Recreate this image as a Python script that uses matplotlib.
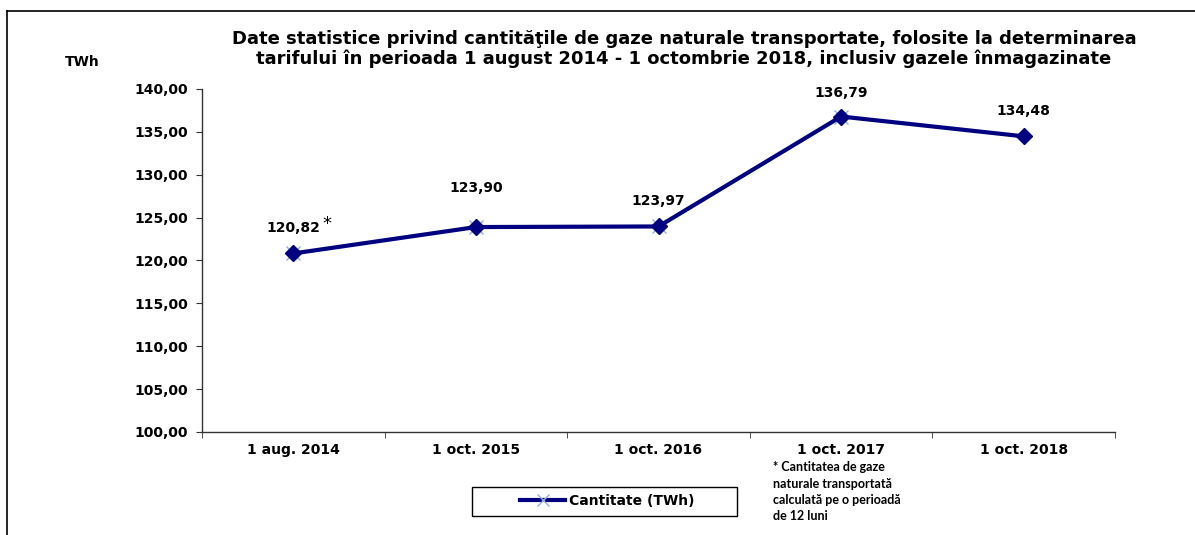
import matplotlib.pyplot as plt
from matplotlib.lines import Line2D
from matplotlib.patches import Rectangle
import numpy as np

categories = ["1 aug. 2014", "1 oct. 2015", "1 oct. 2016", "1 oct. 2017", "1 oct. 2018"]
values = [120.82, 123.90, 123.97, 136.79, 134.48]
value_labels = ["120,82", "123,90", "123,97", "136,79", "134,48"]
yticks = [100, 105, 110, 115, 120, 125, 130, 135, 140]

title = ("Date statistice privind cantităţile de gaze naturale transportate, folosite la determinarea\n"
         "tarifului în perioada 1 august 2014 - 1 octombrie 2018, inclusiv gazele înmagazinate")
footnote = "* Cantitatea de gaze\nnaturale transportată\ncalculată pe o perioadă\nde 12 luni"

# label placement (pixels above the point), as in the original excel chart
label_dy = [25, 39, 25, 24, 25]

NAVY = "#000080"
STAR = "#8fb0e0"
W, H = 1195, 535
plt.rcParams["font.family"] = ["DejaVu Sans"]

fig = plt.figure(figsize=(W / 100, H / 100), dpi=100)
ax = fig.add_axes([202 / W, 1 - 432 / H, (1115 - 202) / W, (432 - 89) / H])

x = np.arange(len(categories))
ax.plot(x, values, color=NAVY, linewidth=3, marker="D", markersize=8, zorder=3)
# excel-style star markers under the first four points
ax.plot(x[:4], values[:4], linestyle="none", marker="x", markersize=10,
        markeredgecolor=STAR, markeredgewidth=1.0, zorder=2)

for xi, v, lab, dy in zip(x, values, value_labels, label_dy):
    ax.annotate(lab, (xi, v), xytext=(0, dy * 0.72), textcoords="offset points",
                ha="center", va="center", fontsize=10, fontweight="bold")
ax.annotate("*", (x[0], values[0]), xytext=(34 * 0.72, 29 * 0.72), textcoords="offset points",
            ha="center", va="center", fontsize=13)

ax.set_xlim(-0.5, len(categories) - 0.5)
ax.set_ylim(100, 140)
ax.set_yticks(yticks)
ax.set_yticklabels([f"{t:.2f}".replace(".", ",") for t in yticks], fontsize=10, fontweight="bold")
ax.set_xticks(x)
ax.set_xticklabels(categories, fontsize=10, fontweight="bold")
ax.set_xticks(np.arange(len(categories) + 1) - 0.5, minor=True)
ax.tick_params(axis="x", which="major", length=0, pad=8)
ax.tick_params(axis="x", which="minor", length=4, direction="out", color="#333333")
ax.tick_params(axis="y", length=4, direction="out", pad=6, color="#333333")
for s in ["top", "right"]:
    ax.spines[s].set_visible(False)
for s in ["left", "bottom"]:
    ax.spines[s].set_color("#333333")
    ax.spines[s].set_linewidth(1.0)

fig.text(684 / W, 1 - 49 / H, title, ha="center", va="center",
         fontsize=13, fontweight="bold", linespacing=1.15)
fig.text(82 / W, 1 - 62 / H, "TWh", ha="center", va="center", fontsize=10, fontweight="bold")
fig.text(773 / W, 1 - 461 / H, footnote, ha="left", va="top",
         fontsize=9, fontweight="bold", family=["Lato", "DejaVu Sans"], linespacing=1.45)

# legend box drawn by hand so the entry sits like in the original
fig.add_artist(Rectangle((472 / W, 1 - 516 / H), (737 - 472) / W, 29 / H,
                         transform=fig.transFigure, fill=False, edgecolor="black", linewidth=1.0))
handle = Line2D([], [], color=NAVY, linewidth=3, marker="x", markersize=8,
                markeredgecolor=STAR, markeredgewidth=1.0)
fig.legend([handle], ["Cantitate (TWh)"], loc="center left",
           bbox_to_anchor=(520 / W, 1 - 501 / H), frameon=False, handlelength=3.25,
           prop={"size": 10, "weight": "bold"}, borderpad=0, borderaxespad=0,
           handletextpad=0.3)

# outer frame lines (top and left), as in the source image
fig.add_artist(Line2D([7 / W, 1.0], [1 - 11 / H] * 2, color="black", linewidth=1.2))
fig.add_artist(Line2D([7 / W] * 2, [0, 1 - 11 / H], color="black", linewidth=1.2))

fig.savefig("out.png", dpi=100)
